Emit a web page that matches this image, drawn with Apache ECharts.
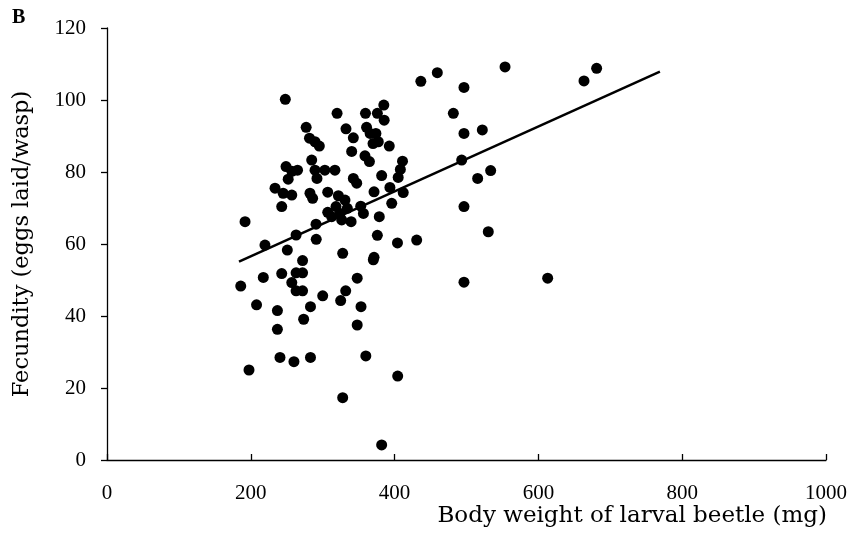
<!DOCTYPE html>
<html>
<head>
<meta charset="utf-8">
<script src="https://cdn.jsdelivr.net/npm/echarts@6/dist/echarts.min.js"></script>
<style>
html,body{margin:0;padding:0;background:#fff;}
#chart{width:852px;height:551px;}
</style>
</head>
<body>
<div id="chart"></div>
<script>
// Body weight of larval beetle (mg)
var weightMg = [
  248, 277, 281.6, 289.3, 295.3, 284.7, 249, 257, 265, 252,
  289.3, 303, 317, 292, 233.7, 245, 257, 282.3, 286, 307,
  243, 192, 307, 290.7, 263, 291, 219.7, 250.8, 272, 217.4,
  243, 263, 272, 186, 257, 263, 272, 300, 208, 237,
  283, 273.5, 237, 240.6, 260, 283, 197.5, 370.4, 348, 332,
  325, 353.3, 348, 360, 404.3, 327.8, 382, 496.5, 612.9, 436.5,
  459.4, 553.6, 681, 663.4, 496.5, 481.7, 496.5, 522, 493.3, 533.6,
  515.5, 496.5, 530.3, 430.7, 404, 411, 408, 405, 412, 320,
  359.5, 376, 385, 385.5, 332.4, 361, 366, 374, 370, 377.3,
  392.6, 342.6, 340.3, 358.8, 365, 382, 342.6, 347.3, 371.4, 393.5,
  352.9, 356.6, 396, 378.7, 339.5, 376, 327.8, 371.4, 321.8, 331,
  318.5, 334.2, 324, 312.5, 326.4
];
// Fecundity (eggs laid/wasp)
var fecundity = [
  100.2, 92.4, 89.4, 88.4, 87.2, 83.3, 81.5, 80.2, 80.5, 78,
  80.5, 80.5, 80.5, 78.2, 75.5, 74.1, 73.6, 74.1, 72.7, 74.4,
  70.4, 66.2, 68.8, 65.5, 62.5, 61.3, 59.7, 58.3, 55.4, 50.7,
  51.8, 52, 52, 48.3, 49.3, 47, 47, 45.6, 43.1, 41.5,
  42.6, 39.1, 36.3, 28.5, 27.3, 28.5, 25, 55.6, 50.5, 47,
  44.3, 42.6, 37.5, 28.9, 23.3, 17.3, 4.2, 49.4, 50.5, 105.2,
  107.6, 109.2, 108.8, 105.3, 103.5, 96.3, 90.7, 91.7, 83.3, 80.4,
  78.2, 70.4, 63.4, 61.1, 60.3, 83, 80.7, 78.5, 74.3, 96.3,
  96.3, 96.3, 98.6, 94.4, 92, 92.4, 90.7, 90.7, 87.9, 88.4,
  87.2, 89.5, 85.7, 84.5, 82.9, 79, 78.2, 76.9, 74.5, 75.7,
  70.5, 68.5, 71.3, 67.6, 66.2, 62.4, 57.4, 56.3, 73.4, 72.2,
  70.4, 69.9, 68.5, 67.6, 66.7
];
// Fitted regression line end points
var trendX = [183.6, 769];
var trendY = [55.1, 107.9];
var xTicks = [0, 1000, 200];
var yTicks = [0, 120, 20];

var pts = weightMg.map(function (w, i) { return [w, fecundity[i]]; });
var line = trendX.map(function (x, i) { return [x, trendY[i]]; });

var FONT = 'Liberation Serif';
var TFONT = 'DejaVu Serif';
var chart = echarts.init(document.getElementById('chart'), null, {renderer: 'canvas'});
chart.setOption({
  animation: false,
  backgroundColor: '#ffffff',
  grid: {left: 107, right: 26, top: 28, bottom: 91, containLabel: false},
  xAxis: {
    type: 'value', min: xTicks[0], max: xTicks[1], interval: xTicks[2],
    axisLine: {show: true, lineStyle: {color: '#000', width: 1.3}},
    axisTick: {show: true, inside: true, length: 6, lineStyle: {color: '#000', width: 1.3}},
    axisLabel: {color: '#000', fontFamily: FONT, fontSize: 21, margin: 23,
      formatter: function (v) { return String(v); }},
    splitLine: {show: false}
  },
  yAxis: {
    type: 'value', min: yTicks[0], max: yTicks[1], interval: yTicks[2],
    name: 'Fecundity (eggs laid/wasp)', nameLocation: 'middle', nameGap: 73,
    nameTextStyle: {color: '#000', fontFamily: TFONT, fontSize: 22.5},
    axisLine: {show: true, lineStyle: {color: '#000', width: 1.3}},
    axisTick: {show: true, inside: false, length: 6, lineStyle: {color: '#000', width: 1.3}},
    axisLabel: {color: '#000', fontFamily: FONT, fontSize: 21, margin: 21,
      formatter: function (v) { return String(v); }},
    splitLine: {show: false}
  },
  graphic: [
    {type: 'text', left: 12, top: 8, style: {text: 'B', font: 'bold 20px "Liberation Serif"', fill: '#000'}},
    {type: 'text', right: 25, top: 505, style: {text: 'Body weight of larval beetle (mg)', font: '23px "DejaVu Serif"', fill: '#000'}}
  ],
  series: [
    {
      type: 'scatter', data: pts, symbol: 'circle', symbolSize: 11,
      itemStyle: {color: '#000', opacity: 1}
    },
    {
      type: 'line', data: line, symbol: 'none',
      lineStyle: {color: '#000', width: 2.5}
    }
  ]
});
</script>
</body>
</html>
